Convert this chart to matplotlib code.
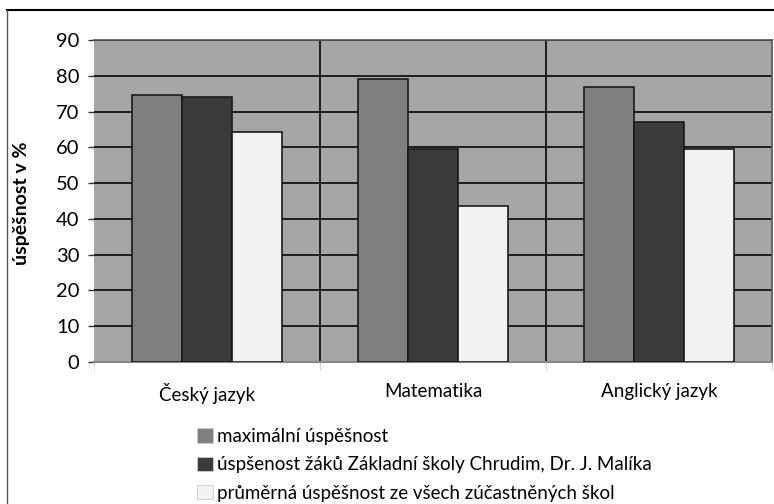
import matplotlib.pyplot as plt
from matplotlib.lines import Line2D
from matplotlib.patches import Patch
import numpy as np

plt.rcParams['font.family'] = ['Lato', 'DejaVu Sans']

subjects = ['Český jazyk', 'Matematika', 'Anglický jazyk']
series_names = ['maximální úspěšnost',
                'úspšenost žáků Základní školy Chrudim, Dr. J. Malíka',
                'průměrná úspěšnost ze všech zúčastněných škol']
max_vals = [74.6, 79.1, 77.0]
school_vals = [74.2, 59.6, 67.1]
avg_vals = [64.3, 43.7, 59.6]
colors = ['#7f7f7f', '#3b3b3b', '#f2f2f2']

fig = plt.figure(figsize=(7.74, 5.04), dpi=100)
ax = fig.add_axes([94 / 774, 1 - 362 / 504, 678 / 774, 322 / 504])
ax.set_facecolor('#a6a6a6')

x = np.arange(len(subjects))
w = 1 / 4.5
for i, vals in enumerate([max_vals, school_vals, avg_vals]):
    ax.bar(x + (i - 1) * w, vals, w, color=colors[i], edgecolor='#1a1a1a',
           linewidth=1.2, zorder=3, label=series_names[i])

ax.set_xlim(-0.5, 2.5)
ax.set_ylim(0, 90)
ax.set_yticks(range(0, 91, 10))
ax.yaxis.grid(True, color='#1e1e1e', linewidth=1.4, zorder=1)
for b in [0.5, 1.5]:
    ax.axvline(b, color='#1e1e1e', linewidth=1.4, zorder=1)
ax.set_axisbelow(True)

ax.set_xticks(x)
ax.set_xticklabels(subjects, fontsize=13.5)
ax.tick_params(axis='x', length=0, pad=15)
ax.set_xticks([-0.5, 0.5, 1.5, 2.5], minor=True)
ax.tick_params(axis='x', which='minor', length=6, color='#cccccc')
ax.tick_params(axis='y', labelsize=14.5, length=4.5, width=1, color='#333333', pad=6)

for s in ['top', 'right']:
    ax.spines[s].set_color('#555555')
    ax.spines[s].set_linewidth(1.2)
ax.spines['left'].set_visible(False)
ax.spines['bottom'].set_color('#888888')
ax.spines['bottom'].set_linewidth(1.5)

fig.text(21.5 / 774, 1 - 203 / 504, 'úspěšnost v %', fontsize=14, fontweight='bold',
         rotation=90, ha='center', va='center')

handles = [Patch(facecolor=c, edgecolor='#cccccc', linewidth=0.6) for c in colors]
fig.legend(handles, series_names, loc='upper left',
           bbox_to_anchor=(197 / 774, 1 - 428 / 504), frameon=False,
           fontsize=13.5, handlelength=0.85, handleheight=0.8,
           handletextpad=0.2, labelspacing=0.6, borderaxespad=0, borderpad=0)

fig.add_artist(Line2D([7 / 774, 1], [1 - 9.5 / 504, 1 - 9.5 / 504], color='black', linewidth=1.5))
fig.add_artist(Line2D([7 / 774, 7 / 774], [0, 1 - 9.5 / 504], color='#555555', linewidth=1.0))

fig.savefig('out.png', dpi=100)
